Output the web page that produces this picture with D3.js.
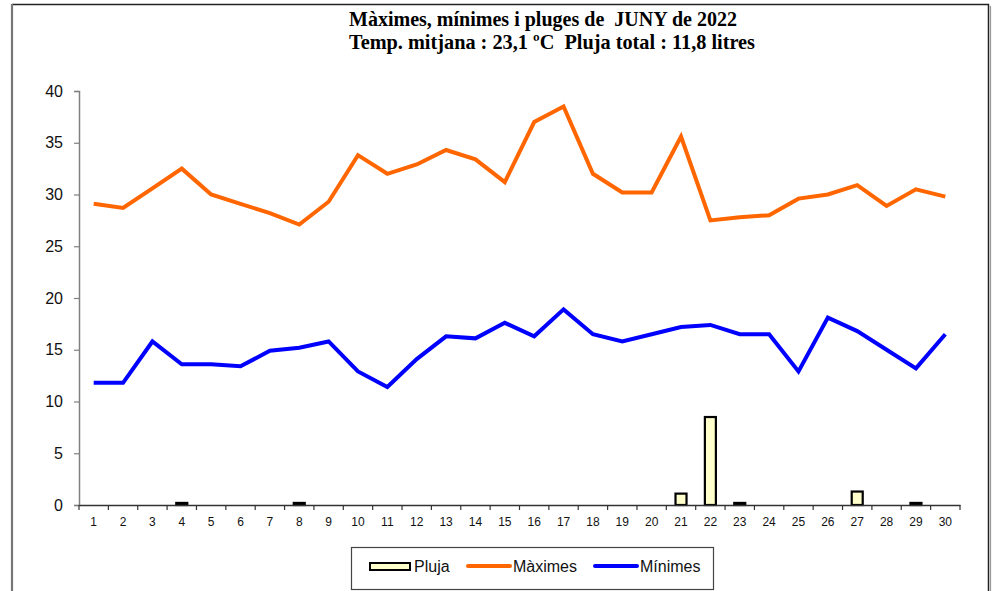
<!DOCTYPE html>
<html>
<head>
<meta charset="utf-8">
<script src="https://cdn.jsdelivr.net/npm/d3@7"></script>
<style>
  html, body { margin: 0; padding: 0; background: #fff; }
  svg { display: block; }
  text.title { white-space: pre; }
</style>
</head>
<body>
<svg id="chart" width="995" height="591"></svg>
<script>
const days = d3.range(1, 31).map(String);
const maxims = [29.1, 28.7, 30.6, 32.5, 30.0, 29.1, 28.2, 27.1, 29.3, 33.8,
                32.0, 32.9, 34.3, 33.4, 31.2, 37.0, 38.5, 32.0, 30.2, 30.2,
                35.6, 27.5, 27.8, 28.0, 29.6, 30.0, 30.9, 28.9, 30.5, 29.8];
const minims = [11.8, 11.8, 15.8, 13.6, 13.6, 13.4, 14.9, 15.2, 15.8, 12.9,
                11.4, 14.1, 16.3, 16.1, 17.6, 16.3, 18.9, 16.5, 15.8, 16.5,
                17.2, 17.4, 16.5, 16.5, 12.9, 18.1, 16.8, 15.0, 13.2, 16.5];
const pluja  = [0, 0, 0, 0.2, 0, 0, 0, 0.2, 0, 0,
                0, 0, 0, 0, 0, 0, 0, 0, 0, 0,
                1.1, 8.5, 0.2, 0, 0, 0, 1.3, 0, 0.2, 0];
const yTicks = [0, 5, 10, 15, 20, 25, 30, 35, 40];
const titleLines = ["Màximes, mínimes i pluges de  JUNY de 2022",
                    "Temp. mitjana : 23,1 ºC  Pluja total : 11,8 litres"];
const legendLabels = ["Pluja", "Màximes", "Mínimes"];

const svg = d3.select("#chart");
const plot = {left: 79, right: 960, top: 91, bottom: 505};

// frame
svg.append("line").attr("x1", 12).attr("x2", 989).attr("y1", 4.5).attr("y2", 4.5)
  .attr("stroke", "#222").attr("stroke-width", 1.5);
svg.append("line").attr("x1", 988.5).attr("x2", 988.5).attr("y1", 4).attr("y2", 591)
  .attr("stroke", "#222").attr("stroke-width", 1.5);
svg.append("line").attr("x1", 990.5).attr("x2", 990.5).attr("y1", 6).attr("y2", 591)
  .attr("stroke", "#999").attr("stroke-width", 1.2);
svg.append("line").attr("x1", 12).attr("x2", 12).attr("y1", 4).attr("y2", 591)
  .attr("stroke", "#777").attr("stroke-width", 2.2);

// title
const tl = [{x: 349, y: 26, len: 388}, {x: 349, y: 49, len: 406}];
svg.selectAll("text.title").data(titleLines).join("text")
  .attr("class", "title")
  .attr("xml:space", "preserve")
  .attr("x", (d, i) => tl[i].x).attr("y", (d, i) => tl[i].y)
  .attr("textLength", (d, i) => tl[i].len)
  .attr("lengthAdjust", "spacingAndGlyphs")
  .attr("font-family", "'Liberation Serif', 'Times New Roman', serif")
  .attr("font-weight", "bold").attr("font-size", 22)
  .text(d => d);

const x = d3.scaleBand().domain(days).range([plot.left, plot.right]).padding(0);
const y = d3.scaleLinear().domain([0, 40]).range([plot.bottom, plot.top]);

// y axis
const yAxis = d3.axisLeft(y).tickValues(yTicks).tickSize(5).tickPadding(11);
const gy = svg.append("g").attr("transform", `translate(${plot.left},0)`).call(yAxis);
gy.select(".domain").attr("stroke", "#808080").attr("stroke-width", 1.5);
gy.selectAll(".tick line").attr("stroke", "#808080").attr("stroke-width", 1.2);
gy.selectAll(".tick text").attr("font-family", "Arial, 'Liberation Sans', sans-serif")
  .attr("font-size", 16).attr("fill", "#111");

// bars
const barW = 11;
svg.append("g").selectAll("rect").data(pluja.map((v, i) => ({d: days[i], v})).filter(o => o.v > 0))
  .join("rect")
  .attr("x", o => x(o.d) + x.bandwidth() / 2 - barW / 2)
  .attr("width", barW)
  .attr("y", o => y(o.v))
  .attr("height", o => y(0) - y(o.v))
  .attr("fill", "#FFFFCC").attr("stroke", "#000").attr("stroke-width", 2.2);

// x axis
const xAxis = d3.axisBottom(x).tickSize(0).tickPadding(12);
const gx = svg.append("g").attr("transform", `translate(0,${plot.bottom})`).call(xAxis);
gx.select(".domain").attr("stroke", "#333").attr("stroke-width", 1.5);
gx.selectAll(".tick text").attr("font-family", "Arial, 'Liberation Sans', sans-serif")
  .attr("font-size", 12).attr("fill", "#111");
// boundary ticks
const bounds = days.map(d => x(d)).concat([plot.right]);
gx.append("g").selectAll("line").data(bounds).join("line")
  .attr("x1", d => d).attr("x2", d => d).attr("y1", 0).attr("y2", 5)
  .attr("stroke", "#333").attr("stroke-width", 1.2);

// lines
const line = d3.line().x((v, i) => x(days[i]) + x.bandwidth() / 2).y(v => y(v));
svg.append("path").datum(maxims).attr("d", line)
  .attr("fill", "none").attr("stroke", "#FF6600").attr("stroke-width", 4)
  .attr("stroke-linejoin", "miter");
svg.append("path").datum(minims).attr("d", line)
  .attr("fill", "none").attr("stroke", "#0000FF").attr("stroke-width", 4)
  .attr("stroke-linejoin", "miter");

// legend
const lg = svg.append("g");
lg.append("rect").attr("x", 351.5).attr("y", 547.5).attr("width", 362).attr("height", 42)
  .attr("fill", "#fff").attr("stroke", "#444").attr("stroke-width", 1.2);
lg.append("rect").attr("x", 370).attr("y", 563).attr("width", 40).attr("height", 7)
  .attr("fill", "#FFFFCC").attr("stroke", "#000").attr("stroke-width", 2);
lg.append("line").attr("x1", 468).attr("x2", 510).attr("y1", 566).attr("y2", 566)
  .attr("stroke", "#FF6600").attr("stroke-width", 4).attr("stroke-linecap", "round");
lg.append("line").attr("x1", 595).attr("x2", 637).attr("y1", 566).attr("y2", 566)
  .attr("stroke", "#0000FF").attr("stroke-width", 4).attr("stroke-linecap", "round");
const lx = [414, 513, 640];
lg.selectAll("text").data(legendLabels).join("text")
  .attr("x", (d, i) => lx[i]).attr("y", 572)
  .attr("font-family", "Arial, 'Liberation Sans', sans-serif").attr("font-size", 16)
  .attr("fill", "#111")
  .text(d => d);
</script>
</body>
</html>
